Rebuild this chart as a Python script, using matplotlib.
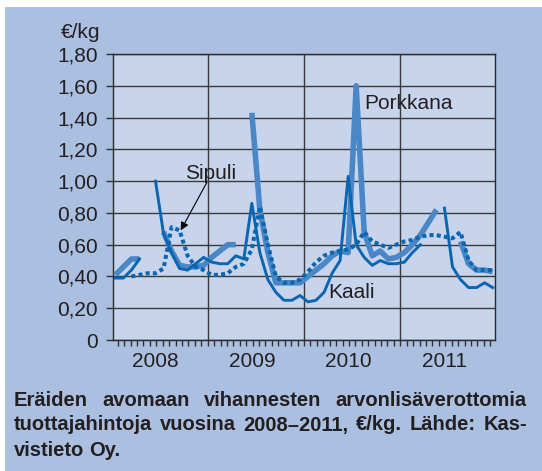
import numpy as np
import matplotlib.pyplot as plt
from matplotlib.patches import Rectangle

nan = np.nan

# monthly prices, Jan 2008 .. Dec 2011 (48 months), €/kg
porkkana = [0.41, 0.46, 0.51, 0.51, nan, nan, 0.68, 0.56, 0.47, 0.46, 0.46, 0.47,
            0.52, 0.56, 0.60, 0.60, nan, 1.43, 0.82, 0.55, 0.36, 0.36, 0.36, 0.36,
            0.40, 0.44, 0.48, 0.53, 0.56, 0.55, 1.60, 0.68, 0.53, 0.56, 0.51, 0.52,
            0.55, 0.60, 0.66, 0.74, 0.82, nan, nan, 0.62, 0.48, 0.44, 0.44, 0.43]
kaali = [0.39, 0.39, 0.44, 0.51, nan, 1.00, 0.67, 0.55, 0.45, 0.44, 0.48, 0.52,
         0.49, 0.48, 0.48, 0.53, 0.51, 0.86, 0.55, 0.38, 0.30, 0.25, 0.25, 0.28,
         0.24, 0.25, 0.30, 0.42, 0.50, 1.03, 0.60, 0.52, 0.47, 0.50, 0.48, 0.48,
         0.49, 0.55, 0.60, nan, nan, 0.83, 0.46, 0.38, 0.33, 0.33, 0.36, 0.33]
sipuli = [nan, nan, 0.40, 0.41, 0.42, 0.42, 0.45, 0.71, 0.69, 0.53, 0.46, 0.44,
          0.41, 0.41, 0.42, 0.46, 0.48, 0.57, 0.84, 0.60, 0.40, 0.36, 0.36, 0.38,
          0.43, 0.49, 0.53, 0.55, 0.56, 0.57, 0.60, 0.68, 0.62, 0.60, 0.58, 0.60,
          0.62, 0.63, 0.65, 0.66, 0.66, 0.65, 0.64, 0.68, 0.50, 0.44, 0.44, 0.44]
years = [2008, 2009, 2010, 2011]
yticks = [0, 0.2, 0.4, 0.6, 0.8, 1.0, 1.2, 1.4, 1.6, 1.8]
ylabels = ['0', '0,20', '0,40', '0,60', '0,80', '1,00', '1,20', '1,40', '1,60', '1,80']
caption = ['Eräiden avomaan vihannesten arvonlisäverottomia',
           'tuottajahintoja vuosina 2008–2011, €/kg. Lähde: Kas-',
           'vistieto Oy.']

plt.rcParams['font.family'] = ['Liberation Sans', 'DejaVu Sans']
txt = '#231f20'
dark = '#0a66b0'
light = '#4a87c6'
fs = 15

fig = plt.figure(figsize=(5.42, 4.71), dpi=100)
fig.patch.set_facecolor('white')
fig.patches.append(Rectangle((5 / 542, 0), 1, 1 - 7 / 471, transform=fig.transFigure,
                             facecolor='#abbfe1', edgecolor='none', zorder=-10))

ax = fig.add_axes([113 / 542, 131 / 471, 382 / 542, 286 / 471])
ax.set_facecolor('#c7d4ec')

x = 2008 + (np.arange(48) + 0.5) / 12
ax.plot(x, porkkana, color=light, lw=4.0, solid_capstyle='butt', zorder=3)
ax.plot(x, kaali, color=dark, lw=2.1, zorder=4)
ax.plot(x, sipuli, color=dark, lw=2.9, linestyle=(0, (1, 0.8)), dash_capstyle='butt', zorder=5)

ax.set_xlim(2008.017, 2011.983)
ax.set_ylim(0, 1.8)
ax.set_yticks(yticks)
ax.set_yticklabels(ylabels, fontsize=fs, color=txt)
ax.set_xticks([y + 1 for y in years[:-1]])
ax.set_xticklabels([])
ax.set_xticks(2008 + np.arange(1, 60) / 15, minor=True)
ax.tick_params(axis='y', length=5, width=1, color='#333333', pad=6)
ax.tick_params(axis='x', which='both', length=4, width=1, color='#333333')
ax.grid(axis='y', color='#3a3a3a', lw=1.0)
ax.grid(axis='x', which='major', color='#3a3a3a', lw=1.0)
for s in ax.spines.values():
    s.set_color('#2a2a2a')
    s.set_linewidth(1.0)

for y in years:
    ax.text(y + 0.46, -0.135, str(y), ha='center', va='center', fontsize=fs, color=txt)

ax.text(-13 / 382, 1.075, '€/kg', transform=ax.transAxes, ha='right', va='center',
        fontsize=fs, color=txt)
ax.text(2009.03, 1.05, 'Sipuli', ha='center', va='center', fontsize=fs, color=txt)
ax.text(2011.08, 1.49, 'Porkkana', ha='center', va='center', fontsize=fs, color=txt)
ax.text(2010.49, 0.30, 'Kaali', ha='center', va='center', fontsize=fs, color=txt)
ax.annotate('', xy=(2008.72, 0.69), xytext=(2008.99, 0.99),
            arrowprops=dict(arrowstyle='-|>', color='black', lw=0.8,
                            mutation_scale=12, shrinkA=0, shrinkB=0))

# caption, first two lines justified
renderer = fig.canvas.get_renderer()
x0, x1 = 14, 527
cap_fs = fs
while True:
    probe = fig.text(0, 0, caption[1], fontsize=cap_fs, fontweight='bold')
    w = probe.get_window_extent(renderer).width
    probe.remove()
    if w < x1 - x0 - 6 or cap_fs < 9:
        break
    cap_fs -= 0.25

for k, line in enumerate(caption):
    yy = 1 - (400 + 25 * k) / 471
    words = line.split(' ')
    items = [fig.text(0, yy, w, ha='left', va='center', fontsize=cap_fs,
                      fontweight='bold', color=txt) for w in words]
    widths = [t.get_window_extent(renderer).width for t in items]
    if k < 2:
        gap = (x1 - x0 - sum(widths)) / (len(words) - 1)
    else:
        gap = 5
    pos = x0
    for t, w in zip(items, widths):
        t.set_x(pos / 542)
        pos += w + gap

fig.savefig('out.png', dpi=100)
